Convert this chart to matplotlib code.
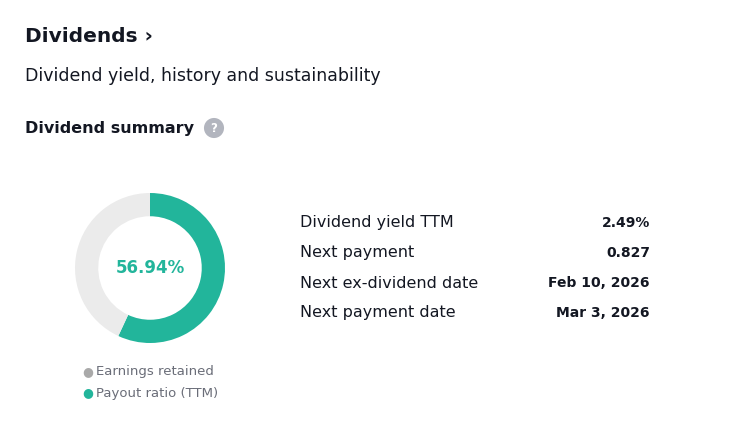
import matplotlib.pyplot as plt

payout_ratio = 56.94
retained = 100 - payout_ratio
row_labels = ["Dividend yield TTM", "Next payment", "Next ex-dividend date", "Next payment date"]
row_values = ["2.49%", "0.827", "Feb 10, 2026", "Mar 3, 2026"]
legend_labels = ["Earnings retained", "Payout ratio (TTM)"]

TEAL = "#22b59b"
GREY = "#ebebeb"
W, H = 742, 428

plt.rcParams['font.family'] = ['DejaVu Sans']
fig = plt.figure(figsize=(W / 100, H / 100), dpi=100)


def px(x, y):
    return x / W, 1 - y / H


fig.text(*px(25, 37), "Dividends ›", fontsize=14.5, fontweight="bold", va="center", color="#131722")
fig.text(*px(25, 76), "Dividend yield, history and sustainability", fontsize=12.5, va="center", color="#131722")
fig.text(*px(25, 128), "Dividend summary", fontsize=11.5, fontweight="bold", va="center", color="#131722")
fig.text(*px(214, 128), "?", fontsize=8.5, fontweight="bold", ha="center", va="center", color="white",
         bbox=dict(boxstyle="circle,pad=0.3", fc="#b2b5be", ec="none"))

ax = fig.add_axes([75 / W, (H - 343) / H, 150 / W, 150 / H])
ax.pie([payout_ratio, retained], colors=[TEAL, GREY], startangle=90, counterclock=False,
       wedgeprops=dict(width=0.31, edgecolor="none"))
ax.set_xlim(-1, 1)
ax.set_ylim(-1, 1)
ax.set_aspect("equal")
ax.text(0, 0, f"{payout_ratio:.2f}%", ha="center", va="center", fontsize=12, fontweight="bold", color=TEAL)

for i, (lab, c) in enumerate(zip(legend_labels, ["#a9a9a9", TEAL])):
    y = 372 + i * 21
    fig.text(*px(88, y), "●", fontsize=9, ha="center", va="center", color=c)
    fig.text(*px(96, y), lab, fontsize=9.5, va="center", color="#6a6d78")

for i, (lab, val) in enumerate(zip(row_labels, row_values)):
    y = 223 + i * 30
    fig.text(*px(300, y), lab, fontsize=11.5, va="center", color="#131722")
    fig.text(*px(650, y), val, fontsize=10, fontweight="bold", ha="right", va="center", color="#131722")

fig.savefig("out.png", dpi=100, facecolor="white")
